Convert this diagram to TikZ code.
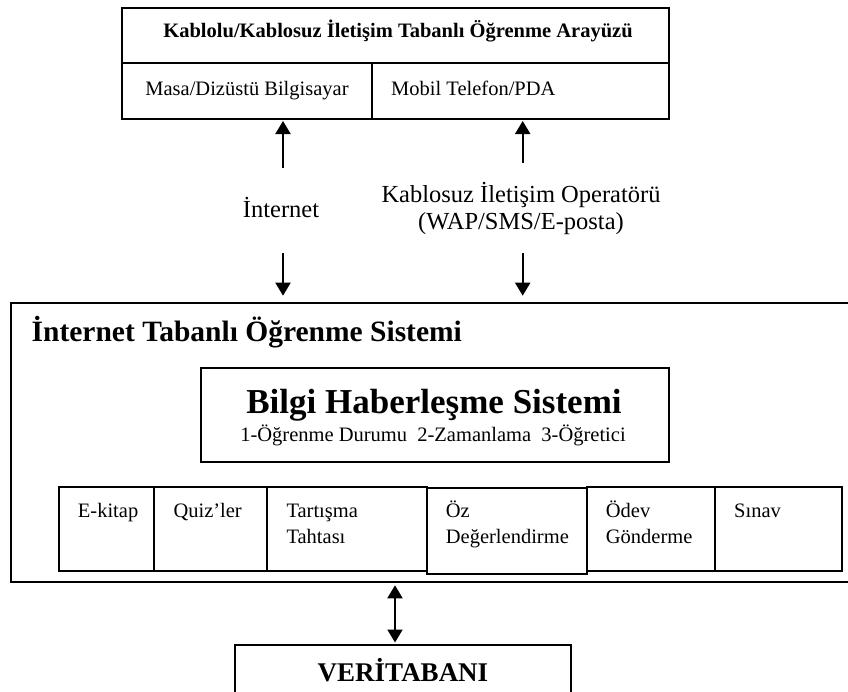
\documentclass[tikz,border=0pt]{standalone}
\usepackage{fontspec}
\setmainfont{Liberation Serif}
\usetikzlibrary{arrows.meta}
\tikzset{
  boxs/.style={draw, line width=2pt, rectangle, inner sep=0pt},
  lbl/.style={inner sep=0pt},
  arr/.style={line width=2pt, -{Triangle[length=13pt,width=15pt]}},
  darr/.style={line width=2pt, {Triangle[length=13pt,width=15pt]}-{Triangle[length=13pt,width=15pt]}},
  fsm/.style={font=\fontsize{20.5}{26}\selectfont},
  fmid/.style={font=\fontsize{24.5}{23}\selectfont}
}
\begin{document}
\begin{tikzpicture}[x=1pt,y=-1pt]
\useasboundingbox (0,0) rectangle (848,691);
% top interface box
\node[boxs, minimum width=547pt, minimum height=55pt] (hdr) at (395.5,35.5) {};
\node[boxs, minimum width=250pt, minimum height=56pt] (cellL) at (247,91) {};
\node[boxs, minimum width=297pt, minimum height=56pt] (cellR) at (520.5,91) {};
\node[lbl, anchor=base, font=\fontsize{20.5}{26}\selectfont\bfseries] (hdrt) at (398,37) {Kablolu/Kablosuz İletişim Tabanlı Öğrenme Arayüzü};
\node[lbl, anchor=base, fsm] (cellLt) at (247,95) {Masa/Dizüstü Bilgisayar};
\node[lbl, anchor=base west, fsm] (cellRt) at (391,95) {Mobil Telefon/PDA};
% middle labels
\node[lbl, anchor=base, fmid] (inet) at (281,217) {İnternet};
\node[lbl, anchor=base, fmid] (op1) at (521,202) {Kablosuz İletişim Operatörü};
\node[lbl, anchor=base, fmid] (op2) at (521,229) {(WAP/SMS/E-posta)};
% big system box
\node[boxs, minimum width=845.3pt, minimum height=279.6pt] (big) at (433.35,442.5) {};
\node[lbl, anchor=base west, font=\fontsize{29.5}{34}\selectfont\bfseries] (bigt) at (31.5,341) {İnternet Tabanlı Öğrenme Sistemi};
% bilgi box
\node[boxs, line width=2.5pt, minimum width=468pt, minimum height=94pt] (bilgi) at (435,415) {};
\node[lbl, anchor=base, font=\fontsize{35}{40}\selectfont\bfseries] (bilgit) at (434,413) {Bilgi Haberleşme Sistemi};
\node[lbl, anchor=base, fsm] (bilgis) at (433,441.7) {1-Öğrenme Durumu\ \ 2-Zamanlama\ \ 3-Öğretici};
% modules
\node[boxs, minimum width=95.6pt, minimum height=84.2pt] (m1) at (106.5,528.6) {};
\node[boxs, minimum width=113pt, minimum height=84.2pt] (m2) at (210.8,528.6) {};
\node[boxs, minimum width=159.4pt, minimum height=84.2pt] (m3) at (347,528.6) {};
\node[boxs, minimum width=128.3pt, minimum height=84.2pt] (m5) at (650.85,528.6) {};
\node[boxs, minimum width=127pt, minimum height=84.2pt] (m6) at (778.5,528.6) {};
\node[boxs, minimum width=160pt, minimum height=86.5pt] (m4) at (506.7,530.75) {};
\node[lbl, anchor=base west, fsm] (m1t) at (77.7,517) {E-kitap};
\node[lbl, anchor=base west, fsm] (m2t) at (173.3,517) {Quiz’ler};
\node[lbl, anchor=base west, fsm, align=left] (m3t) at (286.3,543) {Tartışma\\Tahtası};
\node[lbl, anchor=base west, fsm, align=left] (m4t) at (445.7,543) {Öz\\Değerlendirme};
\node[lbl, anchor=base west, fsm, align=left] (m5t) at (605.7,543) {Ödev\\Gönderme};
\node[lbl, anchor=base west, fsm] (m6t) at (734,517) {Sınav};
% database
\node[boxs, minimum width=335.7pt, minimum height=65pt] (db) at (402.85,677.5) {};
\node[lbl, anchor=base, font=\fontsize{27}{30}\selectfont\bfseries] (dbt) at (403,681.7) {VERİTABANI};
% arrows
\coordinate (u1) at (283,168);
\coordinate (u2) at (522.7,163);
\coordinate (d1) at (283,253);
\coordinate (d2) at (522.7,253);
\coordinate (vx) at (395,600);
\draw[arr, shorten >=1pt] (u1) -- (u1 |- cellL.south);
\draw[arr, shorten >=1pt] (u2) -- (u2 |- cellR.south);
\draw[arr, shorten >=6pt] (d1) -- (d1 |- big.north);
\draw[arr, shorten >=6pt] (d2) -- (d2 |- big.north);
\draw[darr, shorten <=2pt, shorten >=1.5pt] (vx |- big.south) -- (vx |- db.north);
\end{tikzpicture}
\end{document}
